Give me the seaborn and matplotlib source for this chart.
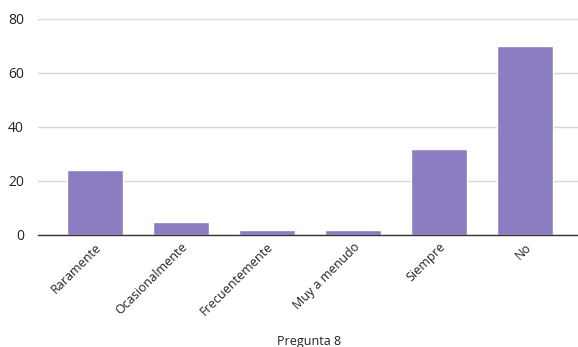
import matplotlib
matplotlib.use("Agg")
import matplotlib.pyplot as plt
import seaborn as sns
import pandas as pd

categories = ["Raramente", "Ocasionalmente", "Frecuentemente", "Muy a menudo", "Siempre", "No"]
values = [24, 5, 2, 2, 32, 70]
yticks = [0, 20, 40, 60, 80]
xlabel = "Pregunta 8"

sns.set_theme(style="white")
plt.rcParams['font.family'] = ['Open Sans', 'DejaVu Sans']

df = pd.DataFrame({"cat": categories, "val": values})

fig = plt.figure(figsize=(5.78, 3.47), dpi=100)
ax = fig.add_axes([38/578, 112/347, 540/578, 216/347])
sns.barplot(data=df, x="cat", y="val", color="#8c7cc2", saturation=1, width=0.65, ax=ax, zorder=3)

ax.set_xlim(-0.66, 5.62)
ax.set_ylim(0, 80)
ax.set_yticks(yticks)
ax.set_yticklabels([str(t) for t in yticks], fontsize=10, color="#222222")
ax.yaxis.grid(True, color="#d6d6d6", linewidth=1, zorder=0)
ax.tick_params(axis="y", length=0, pad=10)
ax.tick_params(axis="x", length=0, pad=4)
for lab in ax.get_xticklabels():
    lab.set_rotation(45)
    lab.set_ha("right")
    lab.set_rotation_mode("anchor")
    lab.set_fontsize(9)
    lab.set_color("#222222")
for s in ["top", "right", "left"]:
    ax.spines[s].set_visible(False)
ax.spines["bottom"].set_color("#333333")
ax.spines["bottom"].set_linewidth(1)
ax.spines["bottom"].set_zorder(4)
ax.set_ylabel("")
ax.set_xlabel("")
fig.text(309/578, 1 - 341/347, xlabel, ha="center", va="center", fontsize=9, color="#222222")

fig.savefig("out.png", dpi=100)
